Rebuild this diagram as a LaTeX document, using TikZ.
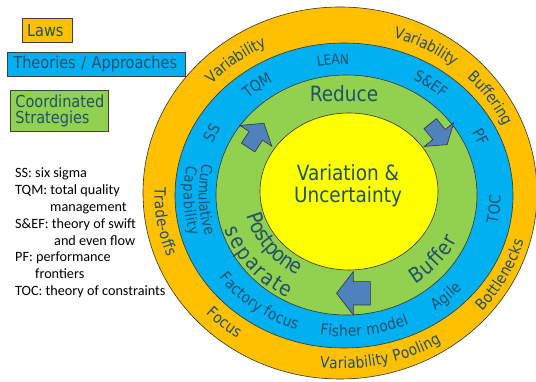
\documentclass[tikz,border=0pt]{standalone}
\usepackage{fontspec}
\usetikzlibrary{decorations.text,calc}
\newfontfamily\vf{DejaVu Sans}[FakeStretch=0.88]
\newfontfamily\cf{Carlito}
\definecolor{orng}{RGB}{255,192,0}
\definecolor{blu}{RGB}{0,176,240}
\definecolor{grn}{RGB}{146,208,80}
\definecolor{ylw}{RGB}{255,255,0}
\definecolor{tc}{RGB}{31,80,110}
\definecolor{arr}{RGB}{79,129,189}
% clockwise text (top part): #1 cx #2 cy #3 rx #4 ry #5 angle #6 size #7 text #8 offset
\newcommand\cwtext[8]{%
  \path[decorate,decoration={text along path,text align=center,text color=tc,
    raise={-0.36*#6pt+#8pt},text={|\vf\fontsize{#6}{#6}\selectfont|#7}}]
    ($(#1,#2)+(#5+60:#3 and #4)$) arc[start angle=#5+60,end angle=#5-60,x radius=#3,y radius=#4];}
\newcommand\ccwtext[8]{%
  \path[decorate,decoration={text along path,text align=center,text color=tc,
    raise={-0.36*#6pt+#8pt},text={|\vf\fontsize{#6}{#6}\selectfont|#7}}]
    ($(#1,#2)+(#5-60:#3 and #4)$) arc[start angle=#5-60,end angle=#5+60,x radius=#3,y radius=#4];}
\tikzset{
  lbox/.style={draw=black!75,line width=0.8pt,anchor=north west,align=left,
    inner ysep=1pt,text=tc,font=\vf\fontsize{16.5}{16.5}\selectfont},
  ring/.style={draw=black!80,line width=0.6pt},
  barrow/.style={draw=black!80,fill=arr,line width=0.6pt,line join=miter},
}
\begin{document}
\begin{tikzpicture}[x=1pt,y=1pt]
\useasboundingbox (0,0) rectangle (536,382);
% rings
\path[ring,fill=orng] (340,189) ellipse[x radius=197,y radius=186];
\path[ring,fill=blu] (344,186.5) ellipse[x radius=169,y radius=152.5];
\path[ring,fill=grn] (346.5,187) ellipse[x radius=130.5,y radius=120];
\path[ring,fill=ylw] (349,190.5) ellipse[x radius=89,y radius=78.5];
% legend boxes
\node[lbox,fill=orng,text width=40pt,minimum height=24pt,inner xsep=5pt] (laws) at (21.7,363.7) {Laws};
\node[lbox,fill=blu,text width=166pt,minimum height=23.4pt,inner xsep=5.7pt] (theo) at (7.3,329.7) {Theories / Approaches};
\node[lbox,fill=grn,text width=88pt,minimum height=40.7pt,inner xsep=5pt] (coord) at (10,292) {Coordinated\\Strategies};
% abbreviations
\node[anchor=north west,align=left,inner sep=0pt,font=\cf\fontsize{14.2}{16.8}\selectfont] (abbr) at (15,214)
 {SS: six sigma\\
  TQM: total quality\\
  \hspace*{35pt}management\\
  S\&EF: theory of swift\\
  \hspace*{39pt}and even flow\\
  PF: performance\\
  \hspace*{20pt}frontiers\\
  TOC: theory of constraints};
% orange ring texts
\cwtext{342.5}{188}{182.5}{169}{128}{15.5}{Variability}{0}
\cwtext{342.5}{188}{182.5}{169}{61}{15.5}{Variability}{0}
\cwtext{342.5}{188}{182.5}{169}{33.5}{15.5}{Buffering}{0}
\ccwtext{342.5}{188}{182.5}{169}{-27.5}{15.5}{Bottlenecks}{0}
\ccwtext{342.5}{188}{182.5}{169}{-77}{15.5}{Variability Pooling}{0}
\ccwtext{342.5}{188}{182.5}{169}{-132}{15.5}{Focus}{0}
\ccwtext{342.5}{188}{182.5}{169}{189}{15.5}{Trade-offs}{0}
% blue ring texts
\cwtext{345}{187}{150}{136}{95}{14}{LEAN}{0}
\cwtext{345}{187}{150}{136}{128}{15.5}{TQM}{0}
\cwtext{345}{187}{150}{136}{53}{15.5}{S{\&}EF}{0}
\cwtext{345}{187}{150}{136}{23.7}{15.5}{PF}{0}
\ccwtext{345}{187}{150}{136}{-5.5}{15.5}{TOC}{0}
\ccwtext{345}{187}{150}{136}{-45.8}{15.5}{Agile}{0}
\ccwtext{345}{187}{150}{136}{-82}{15.5}{Fisher model}{0}
\ccwtext{345}{187}{150}{136}{-128}{15.5}{Factory focus}{0}
\cwtext{345}{187}{150}{136}{154.5}{15.5}{SS}{0}
\ccwtext{345}{187}{150}{136}{182}{15}{Cumulative}{9}
\ccwtext{345}{187}{150}{136}{182}{15}{Capability}{-6}
% green ring texts
\ccwtext{348}{189}{110}{99}{-144}{21}{Postpone}{13}
\ccwtext{348}{189}{110}{99}{-142}{21}{separate}{-12}
\ccwtext{348}{189}{110}{99}{-38.6}{21}{Buffer}{-3}
\node[anchor=base,inner sep=0pt,text=tc,font=\vf\fontsize{21}{21}\selectfont] (reduce) at (344,280.3) {Reduce};
% centre
\node[align=center,inner sep=0pt,text=tc,font=\vf\fontsize{21}{21.7}\selectfont] (vu) at (348,196) {Variation \&\\Uncertainty};
% block arrows
\draw[barrow,shift={(255.8,246.2)},rotate=57] (-14,-8) -- (0,-8) -- (0,-19) -- (15,0) -- (0,19) -- (0,8) -- (-14,8) -- cycle;
\draw[barrow,shift={(439,247.5)},rotate=-51] (-14,-8) -- (0,-8) -- (0,-19) -- (13,0) -- (0,19) -- (0,8) -- (-14,8) -- cycle;
\draw[barrow,shift={(353.3,88.7)},rotate=180] (-17,-11.7) -- (0,-11.7) -- (0,-21.7) -- (16.7,0) -- (0,21.7) -- (0,11.7) -- (-17,11.7) -- cycle;
\end{tikzpicture}
\end{document}
